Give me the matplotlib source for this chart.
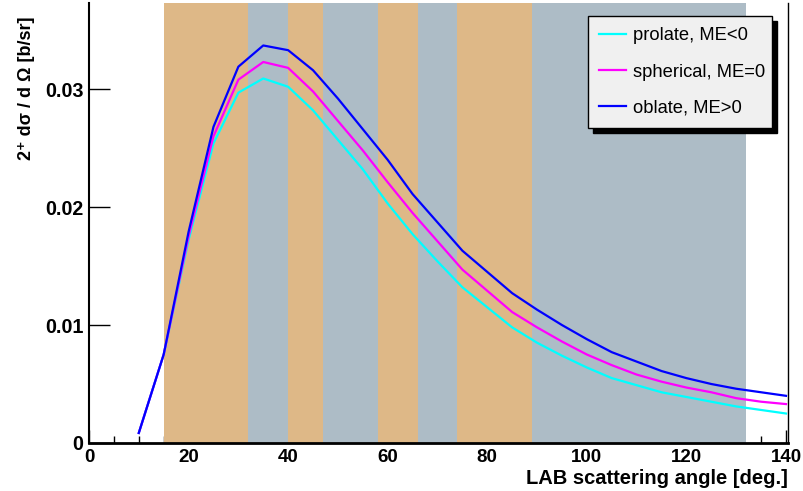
import numpy as np
import matplotlib.pyplot as plt
from matplotlib.ticker import MultipleLocator

# scattering angles (deg) where the curves are sampled
angle = [10, 15, 20, 25, 30, 35, 40, 45, 50, 55, 60, 65, 70, 75, 80,
         85, 90, 95, 100, 105, 110, 115, 120, 125, 130, 135, 140]

# 2+ cross sections [b/sr]
oblate = [0.00085, 0.0075, 0.0179, 0.0268, 0.0319, 0.0337, 0.0333, 0.0316,
          0.0292, 0.0266, 0.0240, 0.0211, 0.0187, 0.0163, 0.0145, 0.0127,
          0.0113, 0.0100, 0.0088, 0.0077, 0.0069, 0.0061, 0.0055, 0.0050,
          0.0046, 0.0043, 0.0040]
spherical = [0.00085, 0.0075, 0.0175, 0.0260, 0.0308, 0.0323, 0.0318, 0.0298,
             0.0273, 0.0248, 0.0221, 0.0195, 0.0171, 0.0147, 0.0129, 0.0111,
             0.0098, 0.0086, 0.0075, 0.0066, 0.0058, 0.0052, 0.0047, 0.0043,
             0.0038, 0.0035, 0.0033]
prolate = [0.00085, 0.0075, 0.0172, 0.0254, 0.0297, 0.0309, 0.0302, 0.0282,
           0.0257, 0.0232, 0.0203, 0.0177, 0.0154, 0.0132, 0.0115, 0.0098,
           0.0085, 0.0074, 0.0064, 0.0055, 0.0049, 0.0043, 0.0039, 0.0035,
           0.0031, 0.0028, 0.0025]

# angular coverage bands (edges in deg) and their alternating colours
band_edges = [15, 32, 40, 47, 58, 66, 74, 89, 132]
band_colors = ["#deb887", "#adbcc6"]

fig = plt.figure(figsize=(8.04, 4.91), dpi=100)
ax = fig.add_axes([89 / 804, 1 - 443 / 491, 699 / 804, 440 / 491])

for i in range(len(band_edges) - 1):
    ax.axvspan(band_edges[i], band_edges[i + 1], color=band_colors[i % 2],
               lw=0, zorder=3)

ax.plot(angle, prolate, color="#00ffff", lw=1.6, zorder=5, label="prolate, ME<0")
ax.plot(angle, spherical, color="#ff00ff", lw=1.6, zorder=5, label="spherical, ME=0")
ax.plot(angle, oblate, color="#0000ff", lw=1.6, zorder=5, label="oblate, ME>0")

ax.set_xlim(0, 140.4)
ax.set_ylim(0, 0.0373)

ax.xaxis.set_major_locator(MultipleLocator(20))
ax.xaxis.set_minor_locator(MultipleLocator(5))
ax.set_yticks([0, 0.01, 0.02, 0.03])
ax.set_yticklabels(["0", "0.01", "0.02", "0.03"])

font = ["Liberation Sans", "DejaVu Sans"]
for lab in ax.get_xticklabels():
    lab.set_family(font)
    lab.set_fontweight("bold")
    lab.set_fontsize(13.5)
for lab in ax.get_yticklabels():
    lab.set_family(font)
    lab.set_fontweight("bold")
    lab.set_fontsize(14.2)

ax.tick_params(axis="x", which="major", direction="in", length=9.5, width=1, pad=4)
ax.tick_params(axis="x", which="minor", direction="in", length=4.7, width=1)
ax.tick_params(axis="y", which="major", direction="in", length=15, width=1, pad=4)
ax.tick_params(top=False, right=False)

ax.spines["top"].set_visible(False)
ax.spines["bottom"].set_linewidth(2)
ax.spines["left"].set_linewidth(1.5)
ax.spines["right"].set_linewidth(1)
for s in ax.spines.values():
    s.set_zorder(6)

ax.set_xlabel("LAB scattering angle [deg.]", family=font, fontweight="bold",
              fontsize=14.5, loc="right")
ax.xaxis.set_label_coords(1.0, -0.058)
ax.set_ylabel("2\u207a d\u03c3 / d \u03a9 [b/sr]", family=font, fontweight="bold",
              fontsize=13, loc="top")
ax.yaxis.set_label_coords(-0.077, 0.970)

x0 = (588 - 89) / 699
y1 = (443 - 16) / 440
leg = ax.legend(loc="upper left", bbox_to_anchor=(x0, y1 - 0.3, 184 / 699, 0.3),
                mode="expand", borderaxespad=0, fancybox=False,
                facecolor="#f0f0f0", edgecolor="black", framealpha=1,
                prop={"family": font, "size": 13.2},
                handlelength=1.45, handletextpad=0.4, labelspacing=1.05,
                borderpad=0.62, shadow={"color": "black", "alpha": 1, "ox": 3.6, "oy": -3.6})
leg.get_frame().set_linewidth(1)
leg.set_zorder(10)

fig.savefig("out.png", dpi=100)
